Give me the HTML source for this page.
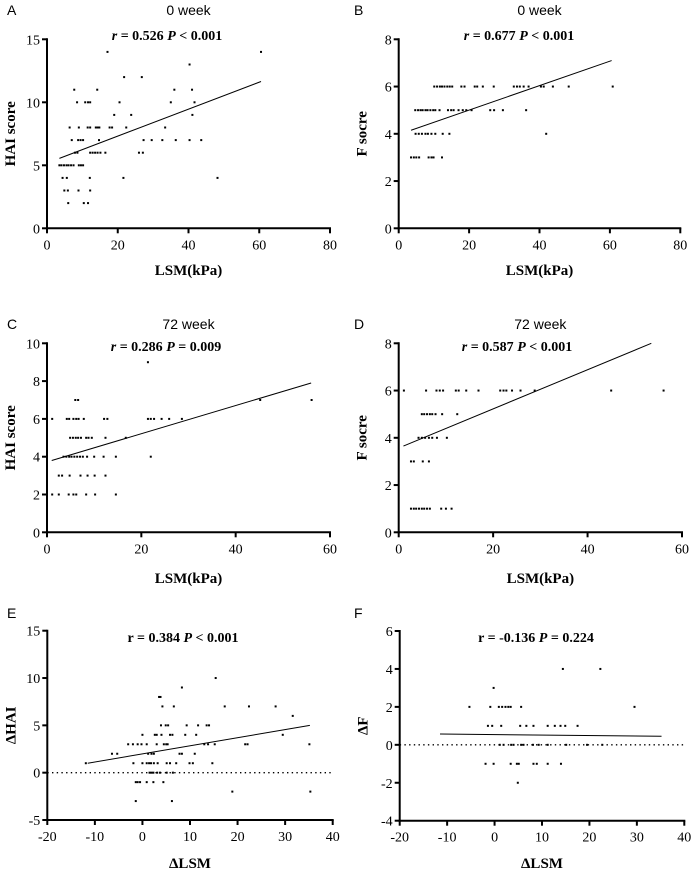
<!DOCTYPE html>
<html><head><meta charset="utf-8"><style>
body{margin:0;background:#fff;}
svg{display:block;}
.tk{font-family:"Liberation Serif",serif;font-size:14px;fill:#000;}
.ttl{font-family:"Liberation Sans",sans-serif;font-size:14px;fill:#000;}
.st{font-family:"Liberation Serif",serif;font-size:14px;font-weight:bold;fill:#000;}
.ax{font-family:"Liberation Serif",serif;font-size:15px;font-weight:bold;fill:#000;}
</style></head><body>
<svg id="fig" width="694" height="870" viewBox="0 0 694 870"></svg>
<script>
// Panel A: LSM vs HAI, 0 week
const aX=[17.1,60.5,40.3,21.8,26.8,7.7,14.2,36,41,8.5,10.8,11.6,12.2,20.5,35,41.7,19,23.8,41.1,6.4,9,11.5,12.2,13.8,14.3,14.8,17.7,18.4,22.4,33.4,7,8.8,9.5,10.2,14.7,27.3,29.6,32.6,36.4,40.3,43.6,7.9,8.6,12.2,12.9,13.6,14.3,15.1,16.5,26,27.1,3.5,4.1,4.8,5.5,6.1,6.8,7.5,9,9.6,10.2,4.4,5.6,12.1,21.6,48.2,4.9,5.9,8.9,12.2,6,10.4,11.6];
const aY=[14,14,13,12,12,11,11,11,11,10,10,10,10,10,10,10,9,9,9,8,8,8,8,8,8,8,8,8,8,8,7,7,7,7,7,7,7,7,7,7,7,6,6,6,6,6,6,6,6,6,6,5,5,5,5,5,5,5,5,5,5,4,4,4,4,4,3,3,3,3,2,2,2];
const aFitX=[3.5,60.5], aFitY=[5.55,11.65];
// Panel B: LSM vs F, 0 week
const bX=[10.1,10.9,11.7,12.3,13,13.8,14.5,15.2,17.8,18.7,21.6,22.3,23.9,27,32.7,33.6,34.4,35.5,36.9,40.4,41.2,43.8,48.3,60.8,4.7,5.5,6.2,6.8,7.6,8.2,9,9.8,10.4,11.6,14,14.9,15.6,17,18.2,19.2,20.7,26,27.1,29.6,36.2,4.8,5.7,6.6,7.6,8.3,9.3,10.4,12.5,14.4,41.9,3.5,4.3,5,5.8,8.5,9.3,9.9,12.3];
const bY=[6,6,6,6,6,6,6,6,6,6,6,6,6,6,6,6,6,6,6,6,6,6,6,6,5,5,5,5,5,5,5,5,5,5,5,5,5,5,5,5,5,5,5,5,5,4,4,4,4,4,4,4,4,4,4,3,3,3,3,3,3,3,3];
const bFitX=[3.5,60.5], bFitY=[4.15,7.1];
// Panel C: LSM vs HAI, 72 week
const cX=[21.4,6,6.6,45.2,56.1,1.1,4.2,4.7,5.6,6.2,6.7,7.8,12.1,12.8,21.4,22,22.7,24.3,25.9,28.6,4.9,5.5,6.1,6.6,7.2,8.3,8.8,9.5,12.4,16.7,3.5,4.1,4.7,5.2,5.8,6.4,7,7.6,8.5,10,12,14.6,22,2.5,3.2,4.8,7.1,8.6,10.1,12.4,1.1,2.5,4.6,5.6,6.2,8.3,10.2,14.6];
const cY=[9,7,7,7,7,6,6,6,6,6,6,6,6,6,6,6,6,6,6,6,5,5,5,5,5,5,5,5,5,5,4,4,4,4,4,4,4,4,4,4,4,4,4,3,3,3,3,3,3,3,2,2,2,2,2,2,2,2];
const cFitX=[1,56], cFitY=[3.8,7.9];
// Panel D: LSM vs F, 72 week
const dX=[1.1,5.8,8,8.7,9.4,12.1,12.7,14.3,16.9,21.5,22.2,22.8,24,25.8,28.8,45,56.1,4.9,5.4,6,6.6,7.1,7.8,9.2,12.4,4.2,4.9,5.6,6.4,7.1,8.1,10.2,2.6,3.2,5.1,6.4,2.6,3.2,3.7,4.3,4.9,5.4,6,6.6,9,10,11.2];
const dY=[6,6,6,6,6,6,6,6,6,6,6,6,6,6,6,6,6,5,5,5,5,5,5,5,5,4,4,4,4,4,4,4,3,3,3,3,1,1,1,1,1,1,1,1,1,1,1];
const dFitX=[1,53.5], dFitY=[3.65,8];
// Panel E: dLSM vs dHAI
const eX=[15.4,8.3,3.5,3.8,4.2,6.6,17.3,22.4,28,31.6,3.9,4.9,5.4,9.3,11.7,13.5,14,0,2.6,3,4,5.8,6.3,9,11.3,29.5,-3,-2,-1,-0.2,0.9,3,4.5,5,5.3,13,13.8,15.2,21.6,22.1,35.1,-6.4,-5.3,1.2,1.9,2.4,7.8,8.3,11,-1.9,0,0.9,1.4,1.8,2.4,3.2,5.1,5.8,7.1,9.9,10.6,14.7,-11.9,1.5,1.9,2.3,3.1,3.7,5.1,6.4,-1.4,-1,-0.5,0.9,2.3,4.4,18.9,35.3,-1.4,6.2];
const eY=[10,9,8,8,7,7,7,7,7,6,5,5,5,5,5,5,5,4,4,4,4,4,4,4,4,4,3,3,3,3,3,3,3,3,3,3,3,3,3,3,3,2,2,2,2,2,2,2,2,1,1,1,1,1,1,1,1,1,1,1,1,1,1,0,0,0,0,0,0,0,-1,-1,-1,-1,-1,-1,-2,-2,-3,-3];
const eFitX=[-11.5,35.2], eFitY=[1.0,5.0];
// Panel F: dLSM vs dF
const fX=[14.4,22.3,-0.2,-5.3,-0.9,0.9,1.6,2.3,2.9,3.4,5.6,29.5,-1.4,-0.5,1.4,5.4,6.7,8.2,11.2,12.7,13.9,14.9,17.5,1.1,1.9,3.5,4,5.6,6.1,8.1,9.3,11.2,15.1,19.5,22.7,-1.9,-0.2,3.4,4.7,5.1,8.2,8.9,11.2,14,4.9];
const fY=[4,4,3,2,2,2,2,2,2,2,2,2,1,1,1,1,1,1,1,1,1,1,1,0,0,0,0,0,0,0,0,0,0,0,0,-1,-1,-1,-1,-1,-1,-1,-1,-1,-2];
const fFitX=[-11.5,35.2], fFitY=[0.57,0.45];

const NS="http://www.w3.org/2000/svg";
const svg=document.getElementById('fig');
function mk(tag,attrs,parent,text){const e=document.createElementNS(NS,tag);for(const k in attrs)e.setAttribute(k,attrs[k]);if(text!==undefined)e.textContent=text;(parent||svg).appendChild(e);return e;}

function panel(p){
  const g=mk('g',{});
  
  
  const sx=v=>p.x0+(v-p.xmin)/(p.xmax-p.xmin)*(p.x1-p.x0);
  const sy=v=>p.y0+(v-p.ymin)/(p.ymax-p.ymin)*(p.y1-p.y0);
  const lab=mk('text',{x:p.lx,y:p.ly,class:'ttl','font-size':'15'},g,p.id);
  
  
  if(p.title){const t=mk('text',{x:(p.x0+p.x1)/2,y:p.ty,class:'ttl','text-anchor':'middle'},g,p.title);
    
    }
  const st=mk('text',{x:p.sx,y:p.sty,class:'st','text-anchor':'middle'},g);
  
  
  st.innerHTML=p.stat;
  // zero line
  if(p.zero){const z=mk('line',{x1:p.x0,x2:p.x1,y1:sy(0),y2:sy(0),stroke:'#000','stroke-width':1.4,'stroke-dasharray':'1.4,3.3'},g);
    
    }
  // points
  for(let i=0;i<p.xs.length;i++){
    const r=mk('rect',{x:sx(p.xs[i])-1,y:sy(p.ys[i])-1,width:2,height:2,fill:'#000'},g);
    
    
  }
  const fl=mk('line',{x1:sx(p.fx[0]),y1:sy(p.fy[0]),x2:sx(p.fx[1]),y2:sy(p.fy[1]),stroke:'#000','stroke-width':1},g);
  
  
  // axes
  const ya=mk('line',{x1:p.x0,x2:p.x0,y1:p.y1-1,y2:p.y0+1,stroke:'#000','stroke-width':2},g);
  
  
  const xa=mk('line',{x1:p.x0-1,x2:p.x1+1,y1:p.y0,y2:p.y0,stroke:'#000','stroke-width':2},g);
  
  
  p.yt.forEach(v=>{
    mk('line',{x1:p.x0-5,x2:p.x0,y1:sy(v),y2:sy(v),stroke:'#000','stroke-width':2},g);
    const t=mk('text',{x:p.x0-7,y:sy(v)+5,class:'tk','text-anchor':'end'},g,String(v));
    
    
  });
  p.xt.forEach(v=>{
    mk('line',{x1:sx(v),x2:sx(v),y1:p.y0,y2:p.y0+5,stroke:'#000','stroke-width':2},g);
    const t=mk('text',{x:sx(v),y:p.y0+21,class:'tk','text-anchor':'middle'},g,String(v));
    
    
  });
  const xt=mk('text',{x:(p.x0+p.x1)/2,y:p.xty,class:'ax','text-anchor':'middle'},g,p.xlab);
  
  
  const cy=(p.y0+p.y1)/2;
  const yt=mk('text',{x:0,y:0,class:'ax','text-anchor':'middle',transform:`translate(${p.x0-32},${cy}) rotate(-90)`},g,p.ylab);
  
  
}

panel({id:'A',title:'0 week',lx:7,ly:15,ty:15,sx:167,sty:40,stat:'<tspan font-style="italic">r</tspan> = 0.526  <tspan font-style="italic">P</tspan> &lt; 0.001',
  x0:47,x1:330,xmin:0,xmax:80,y0:228.3,y1:39.3,ymin:0,ymax:15,xt:[0,20,40,60,80],yt:[0,5,10,15],xs:aX,ys:aY,fx:aFitX,fy:aFitY,xlab:'LSM(kPa)',ylab:'HAI score',xty:275});
panel({id:'B',title:'0 week',lx:354,ly:15,ty:15,sx:519,sty:40,stat:'<tspan font-style="italic">r</tspan> = 0.677  <tspan font-style="italic">P</tspan> &lt; 0.001',
  x0:398.7,x1:680.3,xmin:0,xmax:80,y0:228.3,y1:39.3,ymin:0,ymax:8,xt:[0,20,40,60,80],yt:[0,2,4,6,8],xs:bX,ys:bY,fx:bFitX,fy:bFitY,xlab:'LSM(kPa)',ylab:'F socre',xty:275});
panel({id:'C',title:'72 week',lx:7,ly:329,ty:329,sx:166,sty:351,stat:'<tspan font-style="italic">r</tspan> = 0.286 <tspan font-style="italic">P</tspan> = 0.009',
  x0:47,x1:330,xmin:0,xmax:60,y0:532.3,y1:343.3,ymin:0,ymax:10,xt:[0,20,40,60],yt:[0,2,4,6,8,10],xs:cX,ys:cY,fx:cFitX,fy:cFitY,xlab:'LSM(kPa)',ylab:'HAI score',xty:583});
panel({id:'D',title:'72 week',lx:354,ly:329,ty:329,sx:517,sty:351,stat:'<tspan font-style="italic">r</tspan> = 0.587 <tspan font-style="italic">P</tspan> &lt; 0.001',
  x0:398.7,x1:682,xmin:0,xmax:60,y0:532.3,y1:343.3,ymin:0,ymax:8,xt:[0,20,40,60],yt:[0,2,4,6,8],xs:dX,ys:dY,fx:dFitX,fy:dFitY,xlab:'LSM(kPa)',ylab:'F socre',xty:583});
panel({id:'E',title:'',lx:7,ly:618,ty:0,sx:183,sty:642,stat:'r = 0.384 <tspan font-style="italic">P</tspan> &lt; 0.001',zero:true,
  x0:47.3,x1:332.7,xmin:-20,xmax:40,y0:820,y1:630.7,ymin:-5,ymax:15,xt:[-20,-10,0,10,20,30,40],yt:[-5,0,5,10,15],xs:eX,ys:eY,fx:eFitX,fy:eFitY,xlab:'ΔLSM',ylab:'ΔHAI',xty:868});
panel({id:'F',title:'',lx:354,ly:618,ty:0,sx:536,sty:642,stat:'r = -0.136 <tspan font-style="italic">P</tspan> = 0.224',zero:true,
  x0:399.7,x1:684.3,xmin:-20,xmax:40,y0:820.7,y1:631,ymin:-4,ymax:6,xt:[-20,-10,0,10,20,30,40],yt:[-4,-2,0,2,4,6],xs:fX,ys:fY,fx:fFitX,fy:fFitY,xlab:'ΔLSM',ylab:'ΔF',xty:868});
</script>
</body></html>
